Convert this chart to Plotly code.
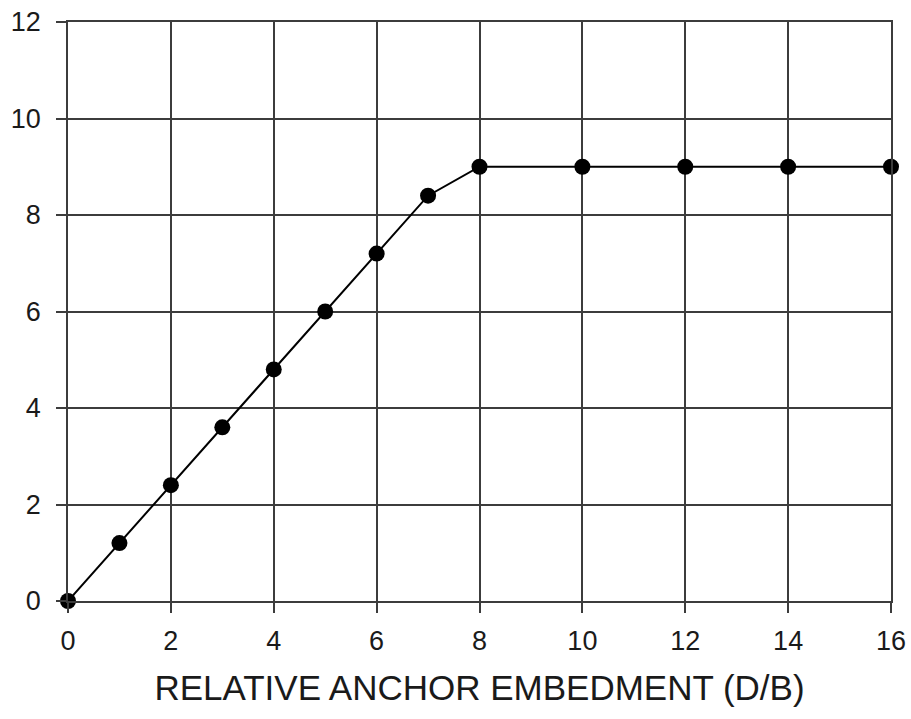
import plotly.graph_objects as go

# Relative anchor embedment (D/B) vs. breakout factor
embedment = [0, 1, 2, 3, 4, 5, 6, 7, 8, 10, 12, 14, 16]
factor = [0, 1.2, 2.4, 3.6, 4.8, 6.0, 7.2, 8.4, 9.0, 9.0, 9.0, 9.0, 9.0]
x_ticks = [0, 2, 4, 6, 8, 10, 12, 14, 16]
y_ticks = [0, 2, 4, 6, 8, 10, 12]

FONT = "Liberation Sans, Arial, sans-serif"

fig = go.Figure()
fig.add_trace(go.Scatter(
    x=embedment, y=factor,
    mode="lines+markers",
    line=dict(color="black", width=2),
    marker=dict(color="black", size=16, symbol="circle"),
    showlegend=False,
    cliponaxis=False,
))

axis_common = dict(
    showgrid=True, gridcolor="#3c3c3c", gridwidth=1.8,
    showline=True, linecolor="#3c3c3c", linewidth=1.8, mirror=True,
    ticks="outside", ticklen=10, tickwidth=1.8, tickcolor="#3c3c3c",
    zeroline=False, automargin=False,
    tickfont=dict(family=FONT, size=27, color="#1a1a1a"),
)

fig.update_xaxes(
    range=[0, 16], tickvals=x_ticks, ticklabelstandoff=5,
    title=dict(text="RELATIVE ANCHOR EMBEDMENT (D/B)",
               font=dict(family=FONT, size=35, color="#1a1a1a"),
               standoff=20),
    **axis_common,
)
fig.update_yaxes(range=[0, 12], tickvals=y_ticks, ticklabelstandoff=10,
                 **axis_common)

fig.update_layout(
    width=911, height=719,
    margin=dict(l=68, r=20, t=22, b=118),
    plot_bgcolor="white", paper_bgcolor="white",
)

fig.write_html("out.html")
